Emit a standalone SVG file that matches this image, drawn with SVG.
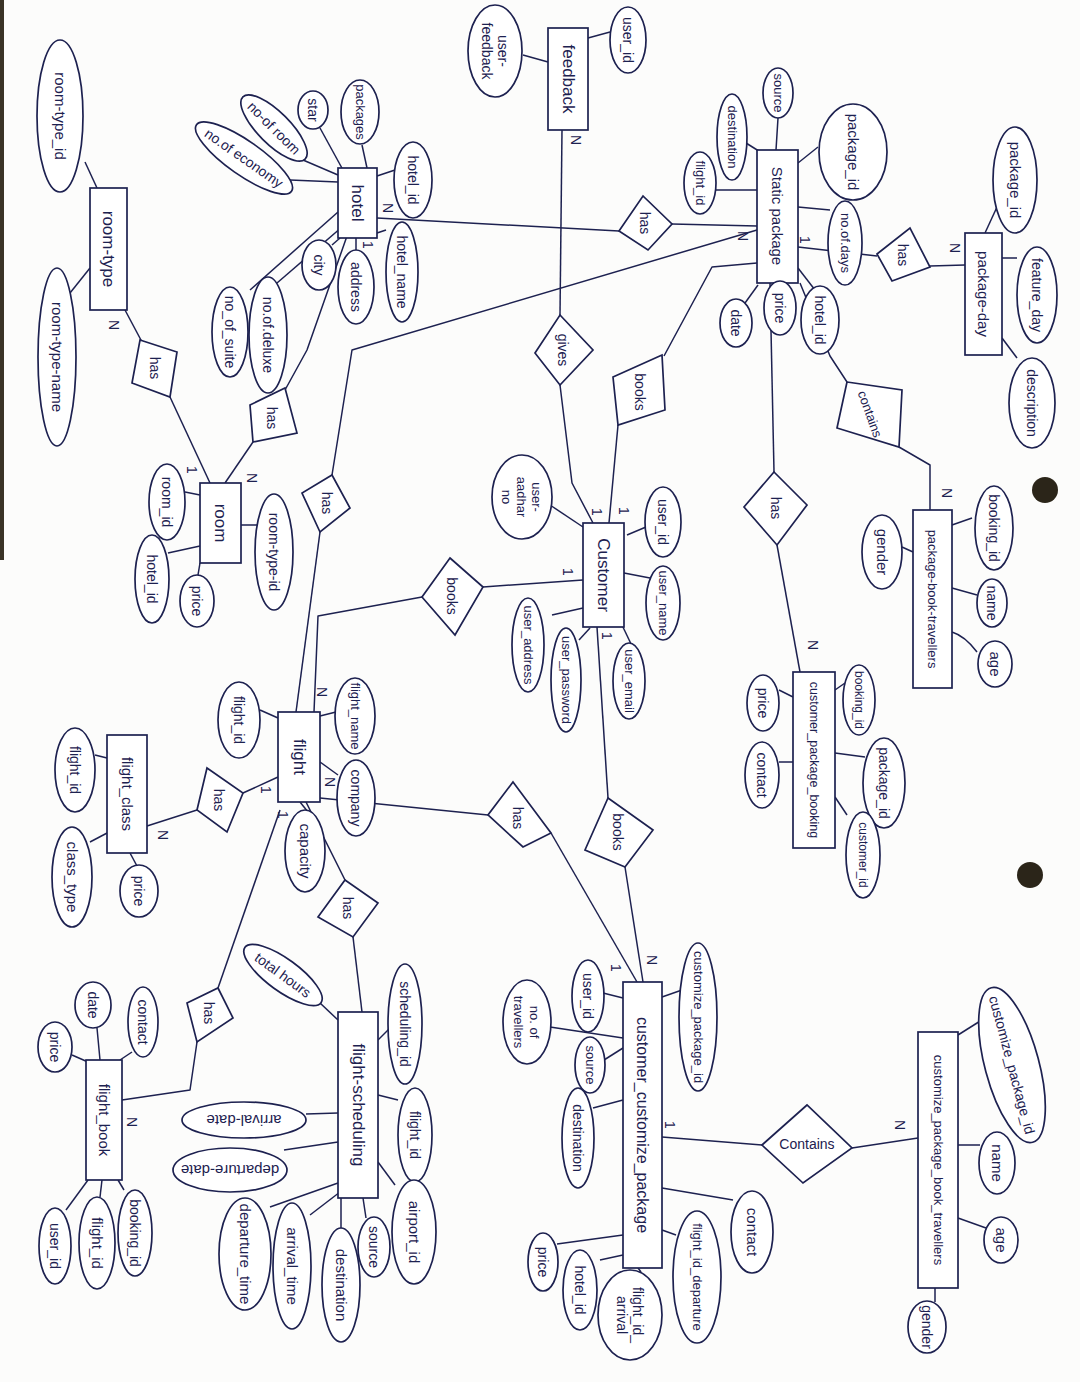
<svg xmlns="http://www.w3.org/2000/svg" width="1080" height="1382" viewBox="0 0 1080 1382">
<style>
text{font-family:"Liberation Sans","DejaVu Sans",sans-serif;fill:#1d2150;text-anchor:middle;dominant-baseline:central;font-size:14px}
.e,.a,.r{fill:#fff;stroke:#1d2150;stroke-width:1.7}
.c{fill:none;stroke:#1d2150;stroke-width:1.5;stroke-linejoin:round}
.k{font-size:15px}
.big{font-size:17px}
</style>
<rect width="1080" height="1382" fill="#fcfcfb"/>
<rect x="0" y="0" width="4" height="560" fill="#3a3326"/>
<circle cx="1045" cy="490" r="13" fill="#2b2519"/>
<circle cx="1030" cy="875" r="13" fill="#2b2519"/>

<g id="connectors">
<path class="c" d="M85,162 L97,188"/>
<path class="c" d="M70,293 L90,268"/>
<path class="c" d="M125,310 L142,342"/>
<path class="c" d="M170,397 L210,483"/>
<path class="c" d="M347,236 L307,350 L285,390"/>
<path class="c" d="M253,442 L225,483"/>
<path class="c" d="M290,180 L338,182"/>
<path class="c" d="M303,160 L338,175"/>
<path class="c" d="M320,128 L343,170"/>
<path class="c" d="M362,145 L367,168"/>
<path class="c" d="M395,170 L377,176"/>
<path class="c" d="M386,230 L377,233"/>
<path class="c" d="M356,238 L356,250"/>
<path class="c" d="M332,245 L340,238"/>
<path class="c" d="M277,283 L342,227"/>
<path class="c" d="M250,290 L338,212"/>
<path class="c" d="M377,218 L619,231"/>
<path class="c" d="M672,224 L757,226"/>
<path class="c" d="M757,230 L352,350 L332,475"/>
<path class="c" d="M320,532 L296,712"/>
<path class="c" d="M523,55 L548,62"/>
<path class="c" d="M588,38 L610,32"/>
<path class="c" d="M562,130 L560,315"/>
<path class="c" d="M560,385 L572,483 L593,523"/>
<path class="c" d="M778,118 L776,150"/>
<path class="c" d="M746,143 L762,153"/>
<path class="c" d="M716,190 L757,190"/>
<path class="c" d="M798,163 L818,147"/>
<path class="c" d="M798,207 L830,210"/>
<path class="c" d="M798,247 L877,256"/>
<path class="c" d="M745,303 L758,285"/>
<path class="c" d="M780,283 L780,283"/>
<path class="c" d="M798,268 L815,290"/>
<path class="c" d="M757,263 L712,267 L664,356"/>
<path class="c" d="M618,425 L609,523"/>
<path class="c" d="M800,283 L830,356 L847,382"/>
<path class="c" d="M899,447 L930,465 L930,510"/>
<path class="c" d="M770,283 L774,472"/>
<path class="c" d="M777,545 L800,672"/>
<path class="c" d="M930,266 L965,265"/>
<path class="c" d="M985,233 L997,207"/>
<path class="c" d="M1002,258 L1017,258"/>
<path class="c" d="M1002,338 L1017,358"/>
<path class="c" d="M952,525 L972,518"/>
<path class="c" d="M952,588 L977,595"/>
<path class="c" d="M952,632 Q965,636 977,652"/>
<path class="c" d="M902,547 L913,552"/>
<path class="c" d="M835,690 L845,683"/>
<path class="c" d="M835,753 L865,757"/>
<path class="c" d="M835,797 L847,815"/>
<path class="c" d="M779,690 L793,697"/>
<path class="c" d="M779,762 L793,762"/>
<path class="c" d="M185,492 L200,495"/>
<path class="c" d="M168,553 L200,546"/>
<path class="c" d="M198,575 L200,563"/>
<path class="c" d="M241,525 L257,525"/>
<path class="c" d="M550,505 L583,527"/>
<path class="c" d="M627,535 L646,527"/>
<path class="c" d="M624,573 L650,578"/>
<path class="c" d="M622,625 L632,646"/>
<path class="c" d="M590,628 L579,640"/>
<path class="c" d="M583,608 L552,615"/>
<path class="c" d="M583,580 L483,587"/>
<path class="c" d="M422,597 L318,616 L314,712"/>
<path class="c" d="M597,627 L608,798"/>
<path class="c" d="M625,867 L643,982"/>
<path class="c" d="M260,710 L278,718"/>
<path class="c" d="M320,716 L336,712"/>
<path class="c" d="M320,762 L338,775"/>
<path class="c" d="M300,802 L308,812"/>
<path class="c" d="M278,777 L243,793"/>
<path class="c" d="M197,810 L147,826"/>
<path class="c" d="M95,755 L107,758"/>
<path class="c" d="M90,842 L109,832"/>
<path class="c" d="M130,853 L137,866"/>
<path class="c" d="M320,798 L488,815"/>
<path class="c" d="M551,833 L637,982"/>
<path class="c" d="M306,802 L345,880"/>
<path class="c" d="M353,937 L362,1012"/>
<path class="c" d="M280,810 L218,988"/>
<path class="c" d="M197,1042 L190,1090 L122,1100"/>
<path class="c" d="M320,1003 L338,1020"/>
<path class="c" d="M378,1040 L390,1028"/>
<path class="c" d="M378,1095 L398,1100"/>
<path class="c" d="M378,1162 L395,1185"/>
<path class="c" d="M363,1198 L366,1218"/>
<path class="c" d="M341,1198 L341,1228"/>
<path class="c" d="M340,1192 L310,1215"/>
<path class="c" d="M338,1183 L270,1207"/>
<path class="c" d="M306,1114 L338,1113"/>
<path class="c" d="M284,1150 L338,1142"/>
<path class="c" d="M97,1028 L100,1060"/>
<path class="c" d="M132,1052 L120,1060"/>
<path class="c" d="M72,1055 L88,1062"/>
<path class="c" d="M66,1210 L88,1180"/>
<path class="c" d="M100,1197 L102,1180"/>
<path class="c" d="M124,1190 L118,1180"/>
<path class="c" d="M662,997 L682,990"/>
<path class="c" d="M603,993 L623,998"/>
<path class="c" d="M550,1027 L623,1038"/>
<path class="c" d="M604,1060 L623,1048"/>
<path class="c" d="M593,1108 L623,1100"/>
<path class="c" d="M557,1244 L623,1235"/>
<path class="c" d="M600,1260 L623,1255"/>
<path class="c" d="M638,1268 L641,1272"/>
<path class="c" d="M662,1230 L676,1235"/>
<path class="c" d="M662,1188 L733,1200"/>
<path class="c" d="M662,1137 L762,1145"/>
<path class="c" d="M852,1148 L918,1138"/>
<path class="c" d="M958,1035 L985,1018"/>
<path class="c" d="M958,1145 L980,1145"/>
<path class="c" d="M958,1218 L986,1228"/>
<path class="c" d="M935,1288 L935,1302"/>
<g id="cardinality" class="k">
<text transform="translate(114,325) rotate(90)">N</text>
<text transform="translate(192,470) rotate(90)">1</text>
<text transform="translate(252,478) rotate(90)">N</text>
<text transform="translate(388,208) rotate(90)">N</text>
<text transform="translate(368,245) rotate(90)">1</text>
<text transform="translate(576,140) rotate(90)">N</text>
<text transform="translate(743,236) rotate(90)">N</text>
<text transform="translate(805,240) rotate(90)">1</text>
<text transform="translate(955,248) rotate(90)">N</text>
<text transform="translate(947,493) rotate(90)">N</text>
<text transform="translate(813,645) rotate(90)">N</text>
<text transform="translate(597,512) rotate(90)">1</text>
<text transform="translate(624,511) rotate(90)">1</text>
<text transform="translate(568,572) rotate(90)">1</text>
<text transform="translate(607,636) rotate(90)">1</text>
<text transform="translate(322,692) rotate(90)">N</text>
<text transform="translate(330,782) rotate(90)">N</text>
<text transform="translate(266,790) rotate(90)">1</text>
<text transform="translate(283,815) rotate(90)">1</text>
<text transform="translate(163,835) rotate(90)">N</text>
<text transform="translate(132,1122) rotate(90)">N</text>
<text transform="translate(652,960) rotate(90)">N</text>
<text transform="translate(616,968) rotate(90)">1</text>
<text transform="translate(670,1125) rotate(90)">1</text>
<text transform="translate(900,1125) rotate(90)">N</text>
</g>
</g>

<g id="entities">
<g id="room-type"><rect class="e" x="90" y="188" width="37" height="122"/><text class="big" transform="translate(108,249) rotate(90)">room-type</text></g>
<g id="hotel"><rect class="e" x="338" y="168" width="39" height="70"/><text class="big" transform="translate(357,203) rotate(90)">hotel</text></g>
<g id="feedback"><rect class="e" x="548" y="28" width="40" height="102"/><text class="big" transform="translate(568,79) rotate(90)">feedback</text></g>
<g id="static-package"><rect class="e" x="757" y="150" width="41" height="133"/><text class="k" transform="translate(777,216) rotate(90)">Static package</text></g>
<g id="package-day"><rect class="e" x="965" y="233" width="37" height="122"/><text class="k" transform="translate(983,294) rotate(90)">package-day</text></g>
<g id="room"><rect class="e" x="200" y="483" width="41" height="80"/><text class="big" transform="translate(220,523) rotate(90)">room</text></g>
<g id="customer"><rect class="e" x="583" y="523" width="41" height="104"/><text class="big" transform="translate(603,575) rotate(90)">Customer</text></g>
<g id="package-book-travellers"><rect class="e" x="913" y="510" width="39" height="178"/><text style="font-size:13px" transform="translate(932,599) rotate(90)">package-book-travellers</text></g>
<g id="customer-package-booking"><rect class="e" x="793" y="672" width="42" height="176"/><text style="font-size:12.5px" transform="translate(814,760) rotate(90)">customer_package_booking</text></g>
<g id="flight"><rect class="e" x="278" y="712" width="42" height="90"/><text class="big" transform="translate(299,757) rotate(90)">flight</text></g>
<g id="flight-class"><rect class="e" x="107" y="735" width="40" height="118"/><text class="k" transform="translate(127,794) rotate(90)">flight_class</text></g>
<g id="flight-scheduling"><rect class="e" x="338" y="1012" width="40" height="186"/><text class="big" transform="translate(358,1105) rotate(90)">flight-scheduling</text></g>
<g id="flight-book"><rect class="e" x="86" y="1060" width="36" height="120"/><text class="k" transform="translate(104,1120) rotate(90)">flight_book</text></g>
<g id="customer-customize-package"><rect class="e" x="623" y="982" width="39" height="286"/><text style="font-size:16px" transform="translate(642,1125) rotate(90)">customer_customize_package</text></g>
<g id="customize-package-book-travellers"><rect class="e" x="918" y="1032" width="40" height="256"/><text style="font-size:13px" transform="translate(938,1160) rotate(90)">customize_package_book_travellers</text></g>
</g>

<g id="relationships">
<g id="has-hotel-static"><polygon class="r" points="619,231 643,196 672,224 648,250"/><text transform="translate(645,223) rotate(90)">has</text></g>
<g id="has-static-day"><polygon class="r" points="877,254 910,228 930,267 892,281"/><text transform="translate(903,255) rotate(90)">has</text></g>
<g id="gives"><polygon class="r" points="560,315 593,350 560,385 535,353"/><text transform="translate(563,350) rotate(90)">gives</text></g>
<g id="books-static"><polygon class="r" points="613,377 662,355 665,410 618,425"/><text transform="translate(640,392) rotate(90)">books</text></g>
<g id="contains-static"><polygon class="r" points="847,382 902,390 899,447 837,428"/><text style="font-size:13px" transform="translate(870,414) rotate(70)">contains</text></g>
<g id="has-static-booking"><polygon class="r" points="774,472 807,505 777,545 744,507"/><text transform="translate(776,508) rotate(90)">has</text></g>
<g id="has-roomtype-room"><polygon class="r" points="140,340 177,352 170,397 132,383"/><text transform="translate(155,368) rotate(90)">has</text></g>
<g id="has-hotel-room"><polygon class="r" points="250,405 285,388 297,433 253,442"/><text transform="translate(272,418) rotate(90)">has</text></g>
<g id="has-hotel-flight"><polygon class="r" points="332,475 350,508 320,532 302,493"/><text transform="translate(327,503) rotate(90)">has</text></g>
<g id="books-flight"><polygon class="r" points="450,558 483,587 455,635 422,597"/><text transform="translate(452,596) rotate(90)">books</text></g>
<g id="has-flight-class"><polygon class="r" points="207,768 243,793 227,832 197,810"/><text transform="translate(219,800) rotate(90)">has</text></g>
<g id="has-flight-customize"><polygon class="r" points="513,782 551,833 523,847 488,815"/><text transform="translate(518,818) rotate(90)">has</text></g>
<g id="books-customize"><polygon class="r" points="608,798 653,830 625,867 585,850"/><text transform="translate(618,832) rotate(90)">books</text></g>
<g id="has-flight-scheduling"><polygon class="r" points="345,880 378,903 353,937 318,917"/><text transform="translate(348,908) rotate(90)">has</text></g>
<g id="has-flight-book"><polygon class="r" points="187,1003 218,988 233,1018 197,1042"/><text transform="translate(209,1013) rotate(90)">has</text></g>
<g id="contains-customize"><polygon class="r" points="762,1145 807,1105 852,1148 803,1183"/><text x="807" y="1144">Contains</text></g>
</g>

<g id="attributes">
<g id="a-room-type-id"><ellipse class="a" cx="60" cy="116" rx="23" ry="76"/><text class="k" transform="translate(60,116) rotate(90)">room-type_id</text></g>
<g id="a-room-type-name"><ellipse class="a" cx="57" cy="357" rx="19" ry="89"/><text class="k" transform="translate(57,357) rotate(90)">room-type-name</text></g>
<g id="a-no-of-economy"><ellipse class="a" cx="0" cy="0" rx="58" ry="17" transform="translate(244,158) rotate(35)"/><text transform="translate(244,158) rotate(35)">no.of economy</text></g>
<g id="a-no-of-room"><ellipse class="a" cx="0" cy="0" rx="44" ry="16" transform="translate(274,128) rotate(45)"/><text transform="translate(274,128) rotate(45)">no-of room</text></g>
<g id="a-star"><ellipse class="a" cx="313" cy="110" rx="15" ry="19"/><text transform="translate(313,110) rotate(90)">star</text></g>
<g id="a-packages"><ellipse class="a" cx="360" cy="112" rx="19" ry="32"/><text style="font-size:13px" transform="translate(360,112) rotate(90)">packages</text></g>
<g id="a-hotel-id"><ellipse class="a" cx="413" cy="180" rx="19" ry="38"/><text transform="translate(413,180) rotate(90)">hotel_id</text></g>
<g id="a-hotel-name"><ellipse class="a" cx="402" cy="272" rx="16" ry="50"/><text transform="translate(402,272) rotate(90)">hotel_name</text></g>
<g id="a-address"><ellipse class="a" cx="356" cy="287" rx="18" ry="37"/><text transform="translate(356,287) rotate(90)">address</text></g>
<g id="a-city"><ellipse class="a" cx="319" cy="265" rx="17" ry="25"/><text transform="translate(319,265) rotate(90)">city</text></g>
<g id="a-no-of-deluxe"><ellipse class="a" cx="268" cy="335" rx="19" ry="58"/><text transform="translate(268,335) rotate(90)">no.of.deluxe</text></g>
<g id="a-no-of-suite"><ellipse class="a" cx="230" cy="332" rx="18" ry="45"/><text transform="translate(230,332) rotate(90)">no_of_suite</text></g>
<g id="a-room-id"><ellipse class="a" cx="167" cy="502" rx="18" ry="38"/><text transform="translate(167,502) rotate(90)">room_id</text></g>
<g id="a-room-hotel-id"><ellipse class="a" cx="152" cy="579" rx="17" ry="44"/><text transform="translate(152,579) rotate(90)">hotel_id</text></g>
<g id="a-room-price"><ellipse class="a" cx="197" cy="601" rx="17" ry="26"/><text transform="translate(197,601) rotate(90)">price</text></g>
<g id="a-room-room-type-id"><ellipse class="a" cx="274" cy="552" rx="19" ry="58"/><text transform="translate(274,552) rotate(90)">room-type-id</text></g>
<g id="a-user-feedback"><ellipse class="a" cx="495" cy="51" rx="27" ry="46"/><text transform="translate(495,51) rotate(90)"><tspan x="0" dy="-8">user-</tspan><tspan x="0" dy="16">feedback</tspan></text></g>
<g id="a-feedback-user-id"><ellipse class="a" cx="628" cy="40" rx="18" ry="33"/><text transform="translate(628,40) rotate(90)">user_id</text></g>
<g id="a-source"><ellipse class="a" cx="778" cy="93" rx="15" ry="25"/><text style="font-size:13px" transform="translate(778,93) rotate(90)">source</text></g>
<g id="a-destination"><ellipse class="a" cx="732" cy="137" rx="15" ry="43"/><text style="font-size:13px" transform="translate(732,137) rotate(90)">destination</text></g>
<g id="a-static-flight-id"><ellipse class="a" cx="700" cy="183" rx="16" ry="31"/><text style="font-size:13px" transform="translate(700,183) rotate(90)">flight_id</text></g>
<g id="a-package-id"><ellipse class="a" cx="853" cy="152" rx="34" ry="48"/><text class="k" transform="translate(853,152) rotate(90)">package_id</text></g>
<g id="a-no-of-days"><ellipse class="a" cx="845" cy="243" rx="17" ry="42"/><text style="font-size:13px" transform="translate(845,243) rotate(90)">no.of.days</text></g>
<g id="a-date"><ellipse class="a" cx="736" cy="323" rx="16" ry="24"/><text transform="translate(736,323) rotate(90)">date</text></g>
<g id="a-static-price"><ellipse class="a" cx="780" cy="308" rx="16" ry="27"/><text transform="translate(780,308) rotate(90)">price</text></g>
<g id="a-static-hotel-id"><ellipse class="a" cx="820" cy="320" rx="19" ry="34"/><text transform="translate(820,320) rotate(90)">hotel_id</text></g>
<g id="a-day-package-id"><ellipse class="a" cx="1015" cy="180" rx="22" ry="53"/><text class="k" transform="translate(1015,180) rotate(90)">package_id</text></g>
<g id="a-feature-day"><ellipse class="a" cx="1037" cy="295" rx="20" ry="48"/><text transform="translate(1037,295) rotate(90)">feature_day</text></g>
<g id="a-description"><ellipse class="a" cx="1032" cy="403" rx="23" ry="45"/><text transform="translate(1032,403) rotate(90)">description</text></g>
<g id="a-pbt-booking-id"><ellipse class="a" cx="994" cy="528" rx="19" ry="42"/><text transform="translate(994,528) rotate(90)">booking_id</text></g>
<g id="a-pbt-name"><ellipse class="a" cx="992" cy="603" rx="15" ry="24"/><text transform="translate(992,603) rotate(90)">name</text></g>
<g id="a-pbt-age"><ellipse class="a" cx="995" cy="664" rx="17" ry="23"/><text class="k" transform="translate(995,664) rotate(90)">age</text></g>
<g id="a-pbt-gender"><ellipse class="a" cx="882" cy="552" rx="20" ry="37"/><text class="k" transform="translate(882,552) rotate(90)">gender</text></g>
<g id="a-cpb-booking-id"><ellipse class="a" cx="859" cy="700" rx="16" ry="35"/><text style="font-size:12px" transform="translate(859,700) rotate(90)">booking_id</text></g>
<g id="a-cpb-package-id"><ellipse class="a" cx="884" cy="783" rx="21" ry="45"/><text transform="translate(884,783) rotate(90)">package_id</text></g>
<g id="a-cpb-customer-id"><ellipse class="a" cx="863" cy="855" rx="17" ry="43"/><text style="font-size:12px" transform="translate(863,855) rotate(90)">customer_id</text></g>
<g id="a-cpb-price"><ellipse class="a" cx="763" cy="703" rx="16" ry="28"/><text transform="translate(763,703) rotate(90)">price</text></g>
<g id="a-cpb-contact"><ellipse class="a" cx="762" cy="775" rx="17" ry="33"/><text transform="translate(762,775) rotate(90)">contact</text></g>
<g id="a-user-aadhar-no"><ellipse class="a" cx="522" cy="497" rx="30" ry="42"/><text style="font-size:13px" transform="translate(522,497) rotate(90)"><tspan x="0" dy="-15">user-</tspan><tspan x="0" dy="15">aadhar</tspan><tspan x="0" dy="15">no</tspan></text></g>
<g id="a-user-id"><ellipse class="a" cx="663" cy="522" rx="18" ry="35"/><text transform="translate(663,522) rotate(90)">user_id</text></g>
<g id="a-user-name"><ellipse class="a" cx="663" cy="603" rx="17" ry="37"/><text style="font-size:13px" transform="translate(663,603) rotate(90)">user_name</text></g>
<g id="a-user-email"><ellipse class="a" cx="629" cy="681" rx="16" ry="38"/><text style="font-size:13px" transform="translate(629,681) rotate(90)">user_email</text></g>
<g id="a-user-password"><ellipse class="a" cx="566" cy="680" rx="15" ry="52"/><text style="font-size:13px" transform="translate(566,680) rotate(90)">user_password</text></g>
<g id="a-user-address"><ellipse class="a" cx="528" cy="645" rx="16" ry="47"/><text style="font-size:13px" transform="translate(528,645) rotate(90)">user_address</text></g>
<g id="a-flight-id"><ellipse class="a" cx="239" cy="720" rx="21" ry="38"/><text transform="translate(239,720) rotate(90)">flight_id</text></g>
<g id="a-flight-name"><ellipse class="a" cx="355" cy="716" rx="20" ry="38"/><text style="font-size:13px" transform="translate(355,716) rotate(90)">flight_name</text></g>
<g id="a-company"><ellipse class="a" cx="356" cy="798" rx="19" ry="38"/><text transform="translate(356,798) rotate(90)">company</text></g>
<g id="a-capacity"><ellipse class="a" cx="305" cy="851" rx="20" ry="41"/><text class="k" transform="translate(305,851) rotate(90)">capacity</text></g>
<g id="a-class-flight-id"><ellipse class="a" cx="75" cy="770" rx="20" ry="42"/><text transform="translate(75,770) rotate(90)">flight_id</text></g>
<g id="a-class-type"><ellipse class="a" cx="72" cy="877" rx="20" ry="50"/><text class="k" transform="translate(72,877) rotate(90)">class_type</text></g>
<g id="a-class-price"><ellipse class="a" cx="139" cy="891" rx="19" ry="26"/><text transform="translate(139,891) rotate(90)">price</text></g>
<g id="a-total-hours"><ellipse class="a" cx="0" cy="0" rx="47" ry="16" transform="translate(283,975) rotate(36)"/><text transform="translate(283,975) rotate(36)">total hours</text></g>
<g id="a-scheduling-id"><ellipse class="a" cx="405" cy="1024" rx="17" ry="60"/><text transform="translate(405,1024) rotate(90)">scheduling_id</text></g>
<g id="a-sched-flight-id"><ellipse class="a" cx="415" cy="1135" rx="17" ry="47"/><text transform="translate(415,1135) rotate(90)">flight_id</text></g>
<g id="a-airport-id"><ellipse class="a" cx="414" cy="1232" rx="22" ry="52"/><text class="k" transform="translate(414,1232) rotate(90)">airport_id</text></g>
<g id="a-sched-source"><ellipse class="a" cx="374" cy="1247" rx="16" ry="30"/><text transform="translate(374,1247) rotate(90)">source</text></g>
<g id="a-sched-destination"><ellipse class="a" cx="341" cy="1285" rx="19" ry="57"/><text class="k" transform="translate(341,1285) rotate(90)">destination</text></g>
<g id="a-arrival-time"><ellipse class="a" cx="292" cy="1266" rx="19" ry="63"/><text class="k" transform="translate(292,1266) rotate(90)">arrival_time</text></g>
<g id="a-departure-time"><ellipse class="a" cx="245" cy="1254" rx="26" ry="56"/><text class="k" transform="translate(245,1254) rotate(90)">departure_time</text></g>
<g id="a-arrival-date"><ellipse class="a" cx="244" cy="1120" rx="62" ry="18"/><text class="k" transform="translate(244,1120) rotate(180)">arrival-date</text></g>
<g id="a-departure-date"><ellipse class="a" cx="230" cy="1170" rx="57" ry="22"/><text class="k" transform="translate(230,1170) rotate(180)">departure-date</text></g>
<g id="a-book-date"><ellipse class="a" cx="93" cy="1005" rx="18" ry="23"/><text transform="translate(93,1005) rotate(90)">date</text></g>
<g id="a-book-contact"><ellipse class="a" cx="143" cy="1022" rx="15" ry="35"/><text transform="translate(143,1022) rotate(90)">contact</text></g>
<g id="a-book-price"><ellipse class="a" cx="55" cy="1047" rx="17" ry="25"/><text transform="translate(55,1047) rotate(90)">price</text></g>
<g id="a-book-user-id"><ellipse class="a" cx="55" cy="1246" rx="16" ry="38"/><text transform="translate(55,1246) rotate(90)">user_id</text></g>
<g id="a-book-flight-id"><ellipse class="a" cx="97" cy="1243" rx="18" ry="46"/><text class="k" transform="translate(97,1243) rotate(90)">flight_id</text></g>
<g id="a-book-booking-id"><ellipse class="a" cx="135" cy="1233" rx="17" ry="43"/><text transform="translate(135,1233) rotate(90)">booking_id</text></g>
<g id="a-customize-package-id"><ellipse class="a" cx="698" cy="1017" rx="19" ry="74"/><text style="font-size:13px" transform="translate(698,1017) rotate(90)">customize_package_id</text></g>
<g id="a-ccp-user-id"><ellipse class="a" cx="588" cy="996" rx="16" ry="36"/><text transform="translate(588,996) rotate(90)">user_id</text></g>
<g id="a-no-of-travellers"><ellipse class="a" cx="527" cy="1022" rx="24" ry="42"/><text style="font-size:13px" transform="translate(527,1022) rotate(90)"><tspan x="0" dy="-8">no. of</tspan><tspan x="0" dy="16">travellers</tspan></text></g>
<g id="a-ccp-source"><ellipse class="a" cx="590" cy="1065" rx="15" ry="28"/><text style="font-size:13px" transform="translate(590,1065) rotate(90)">source</text></g>
<g id="a-ccp-destination"><ellipse class="a" cx="578" cy="1138" rx="16" ry="50"/><text transform="translate(578,1138) rotate(90)">destination</text></g>
<g id="a-ccp-price"><ellipse class="a" cx="543" cy="1262" rx="15" ry="29"/><text transform="translate(543,1262) rotate(90)">price</text></g>
<g id="a-ccp-hotel-id"><ellipse class="a" cx="580" cy="1290" rx="17" ry="40"/><text transform="translate(580,1290) rotate(90)">hotel_id</text></g>
<g id="a-flight-id-arrival"><ellipse class="a" cx="630" cy="1315" rx="32" ry="45"/><text transform="translate(630,1315) rotate(90)"><tspan x="0" dy="-8">flight_id_</tspan><tspan x="0" dy="16">arrival</tspan></text></g>
<g id="a-flight-id-departure"><ellipse class="a" cx="697" cy="1277" rx="24" ry="66"/><text style="font-size:13px" transform="translate(697,1277) rotate(90)">flight_id_departure</text></g>
<g id="a-ccp-contact"><ellipse class="a" cx="752" cy="1232" rx="21" ry="41"/><text class="k" transform="translate(752,1232) rotate(90)">contact</text></g>
<g id="a-cpbt-customize-package-id"><ellipse class="a" cx="0" cy="0" rx="80" ry="27" transform="translate(1012,1065) rotate(75)"/><text transform="translate(1012,1065) rotate(75)">customize_package_id</text></g>
<g id="a-cpbt-name"><ellipse class="a" cx="997" cy="1163" rx="18" ry="31"/><text class="k" transform="translate(997,1163) rotate(90)">name</text></g>
<g id="a-cpbt-age"><ellipse class="a" cx="1001" cy="1240" rx="17" ry="23"/><text class="k" transform="translate(1001,1240) rotate(90)">age</text></g>
<g id="a-cpbt-gender"><ellipse class="a" cx="927" cy="1327" rx="19" ry="26"/><text transform="translate(927,1327) rotate(90)">gender</text></g>
</g>
</svg>
